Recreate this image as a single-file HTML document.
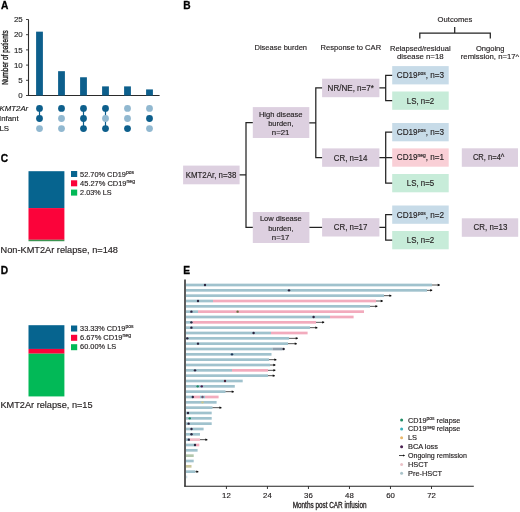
<!DOCTYPE html>
<html><head><meta charset="utf-8"><style>
html,body{margin:0;padding:0;background:#fff;width:520px;height:512px;overflow:hidden}
svg{display:block;will-change:transform}
text{font-family:"Liberation Sans", sans-serif}
</style></head><body>
<svg width="520" height="512" viewBox="0 0 520 512">
<text x="0.9" y="9.2" font-size="10.2" font-weight="bold" fill="#000" stroke="#000" stroke-width="0.3">A</text>
<line x1="28.5" y1="19.4" x2="28.5" y2="96" stroke="#2b2b2b" stroke-width="1.1"/>
<line x1="26" y1="95.50" x2="28.5" y2="95.50" stroke="#2b2b2b" stroke-width="0.9"/>
<text x="22.7" y="98.25" font-size="7.9" text-anchor="end" fill="#2a2a2a" stroke="#2a2a2a" stroke-width="0.15">0</text>
<line x1="26" y1="80.30" x2="28.5" y2="80.30" stroke="#2b2b2b" stroke-width="0.9"/>
<text x="22.7" y="83.05" font-size="7.9" text-anchor="end" fill="#2a2a2a" stroke="#2a2a2a" stroke-width="0.15">5</text>
<line x1="26" y1="65.10" x2="28.5" y2="65.10" stroke="#2b2b2b" stroke-width="0.9"/>
<text x="22.7" y="67.85" font-size="7.9" text-anchor="end" fill="#2a2a2a" stroke="#2a2a2a" stroke-width="0.15">10</text>
<line x1="26" y1="49.90" x2="28.5" y2="49.90" stroke="#2b2b2b" stroke-width="0.9"/>
<text x="22.7" y="52.65" font-size="7.9" text-anchor="end" fill="#2a2a2a" stroke="#2a2a2a" stroke-width="0.15">15</text>
<line x1="26" y1="34.70" x2="28.5" y2="34.70" stroke="#2b2b2b" stroke-width="0.9"/>
<text x="22.7" y="37.45" font-size="7.9" text-anchor="end" fill="#2a2a2a" stroke="#2a2a2a" stroke-width="0.15">20</text>
<line x1="26" y1="19.50" x2="28.5" y2="19.50" stroke="#2b2b2b" stroke-width="0.9"/>
<text x="22.7" y="22.25" font-size="7.9" text-anchor="end" fill="#2a2a2a" stroke="#2a2a2a" stroke-width="0.15">25</text>
<line x1="28" y1="95.5" x2="159.6" y2="95.5" stroke="#2b2b2b" stroke-width="1.1"/>
<text transform="translate(7.9,57.5) rotate(-90)" font-size="9" text-anchor="middle" fill="#151515" stroke="#151515" stroke-width="0.32" textLength="54.5" lengthAdjust="spacingAndGlyphs">Number of patients</text>
<rect x="36.10" y="31.66" width="6.8" height="63.84" fill="#0d5f8c"/>
<rect x="58.10" y="71.18" width="6.8" height="24.32" fill="#0d5f8c"/>
<rect x="80.10" y="77.26" width="6.8" height="18.24" fill="#0d5f8c"/>
<rect x="102.10" y="86.38" width="6.8" height="9.12" fill="#0d5f8c"/>
<rect x="124.10" y="86.38" width="6.8" height="9.12" fill="#0d5f8c"/>
<rect x="146.10" y="89.42" width="6.8" height="6.08" fill="#0d5f8c"/>
<line x1="39.5" y1="108.4" x2="39.5" y2="118.5" stroke="#0d5f8c" stroke-width="1.2"/>
<circle cx="39.5" cy="108.4" r="3.4" fill="#0d5f8c"/>
<circle cx="39.5" cy="118.5" r="3.4" fill="#0d5f8c"/>
<circle cx="39.5" cy="128.6" r="3.4" fill="#91b8d0"/>
<circle cx="61.5" cy="108.4" r="3.4" fill="#0d5f8c"/>
<circle cx="61.5" cy="118.5" r="3.4" fill="#91b8d0"/>
<circle cx="61.5" cy="128.6" r="3.4" fill="#91b8d0"/>
<line x1="83.5" y1="108.4" x2="83.5" y2="128.6" stroke="#0d5f8c" stroke-width="1.2"/>
<circle cx="83.5" cy="108.4" r="3.4" fill="#0d5f8c"/>
<circle cx="83.5" cy="118.5" r="3.4" fill="#0d5f8c"/>
<circle cx="83.5" cy="128.6" r="3.4" fill="#0d5f8c"/>
<line x1="105.5" y1="108.4" x2="105.5" y2="128.6" stroke="#0d5f8c" stroke-width="1.2"/>
<circle cx="105.5" cy="108.4" r="3.4" fill="#0d5f8c"/>
<circle cx="105.5" cy="118.5" r="3.4" fill="#91b8d0"/>
<circle cx="105.5" cy="128.6" r="3.4" fill="#0d5f8c"/>
<circle cx="127.5" cy="108.4" r="3.4" fill="#91b8d0"/>
<circle cx="127.5" cy="118.5" r="3.4" fill="#91b8d0"/>
<circle cx="127.5" cy="128.6" r="3.4" fill="#0d5f8c"/>
<circle cx="149.5" cy="108.4" r="3.4" fill="#91b8d0"/>
<circle cx="149.5" cy="118.5" r="3.4" fill="#0d5f8c"/>
<circle cx="149.5" cy="128.6" r="3.4" fill="#91b8d0"/>
<text x="-0.4" y="110.9" font-size="7.8" font-style="italic" fill="#222" stroke="#222" stroke-width="0.15">KMT2Ar</text>
<text x="-0.9" y="121.1" font-size="7.8" fill="#222" stroke="#222" stroke-width="0.15">Infant</text>
<text x="-0.6" y="131.1" font-size="7.8" fill="#222" stroke="#222" stroke-width="0.15">LS</text>
<text x="183.3" y="9.4" font-size="10.2" font-weight="bold" fill="#000" stroke="#000" stroke-width="0.3">B</text>
<text x="280.8" y="50" font-size="8.0" text-anchor="middle" fill="#262223" stroke="#262223" stroke-width="0.15" textLength="52.5" lengthAdjust="spacingAndGlyphs">Disease burden</text>
<text x="350.8" y="50" font-size="8.0" text-anchor="middle" fill="#262223" stroke="#262223" stroke-width="0.15" textLength="60.6" lengthAdjust="spacingAndGlyphs">Response to CAR</text>
<text x="455" y="22" font-size="8.0" text-anchor="middle" fill="#262223" stroke="#262223" stroke-width="0.15" textLength="34.8" lengthAdjust="spacingAndGlyphs">Outcomes</text>
<text x="420.3" y="50.5" font-size="8.0" text-anchor="middle" fill="#262223" stroke="#262223" stroke-width="0.15" textLength="60.6" lengthAdjust="spacingAndGlyphs">Relapsed/residual</text>
<text x="420.3" y="59.3" font-size="8.0" text-anchor="middle" fill="#262223" stroke="#262223" stroke-width="0.15" textLength="46.6" lengthAdjust="spacingAndGlyphs">disease n=18</text>
<text x="490.2" y="50.5" font-size="8.0" text-anchor="middle" fill="#262223" stroke="#262223" stroke-width="0.15" textLength="28.5" lengthAdjust="spacingAndGlyphs">Ongoing</text>
<text x="490.0" y="59.0" font-size="8.0" text-anchor="middle" fill="#262223" stroke="#262223" stroke-width="0.15" textLength="58.4" lengthAdjust="spacingAndGlyphs">remission, n=17^</text>
<path d="M419.8 38.6 V33 H490.3 V38.6 M454.7 33 V27" fill="none" stroke="#232323" stroke-width="1.25"/>
<rect x="183.1" y="165.6" width="56.50" height="18.70" fill="#ddd0e0"/>
<text x="211.0" y="177.87" font-size="8.5" text-anchor="middle" fill="#262223" stroke="#262223" stroke-width="0.15" textLength="50.6" lengthAdjust="spacingAndGlyphs">KMT2Ar, n=38</text>
<rect x="252.8" y="107.1" width="56.50" height="30.90" fill="#ddd0e0"/>
<text x="280.7" y="116.5" font-size="8.0" text-anchor="middle" fill="#262223" stroke="#262223" stroke-width="0.15" textLength="43.6" lengthAdjust="spacingAndGlyphs">High disease</text>
<text x="280.85" y="125.8" font-size="8.0" text-anchor="middle" fill="#262223" stroke="#262223" stroke-width="0.15" textLength="25.3" lengthAdjust="spacingAndGlyphs">burden,</text>
<text x="280.65" y="134.8" font-size="8.0" text-anchor="middle" fill="#262223" stroke="#262223" stroke-width="0.15" textLength="17.7" lengthAdjust="spacingAndGlyphs">n=21</text>
<rect x="252.8" y="212.0" width="56.60" height="31.00" fill="#ddd0e0"/>
<text x="280.8" y="221.4" font-size="8.0" text-anchor="middle" fill="#262223" stroke="#262223" stroke-width="0.15" textLength="41.8" lengthAdjust="spacingAndGlyphs">Low disease</text>
<text x="280.85" y="230.6" font-size="8.0" text-anchor="middle" fill="#262223" stroke="#262223" stroke-width="0.15" textLength="25.3" lengthAdjust="spacingAndGlyphs">burden,</text>
<text x="280.65" y="239.5" font-size="8.0" text-anchor="middle" fill="#262223" stroke="#262223" stroke-width="0.15" textLength="17.7" lengthAdjust="spacingAndGlyphs">n=17</text>
<rect x="322.1" y="78.7" width="57.30" height="18.50" fill="#ddd0e0"/>
<text x="350.75" y="90.87" font-size="8.5" text-anchor="middle" fill="#262223" stroke="#262223" stroke-width="0.15" textLength="46.3" lengthAdjust="spacingAndGlyphs">NR/NE, n=7*</text>
<rect x="322.1" y="148.4" width="57.30" height="18.40" fill="#ddd0e0"/>
<text x="350.55" y="160.52" font-size="8.5" text-anchor="middle" fill="#262223" stroke="#262223" stroke-width="0.15" textLength="33.7" lengthAdjust="spacingAndGlyphs">CR, n=14</text>
<rect x="322.1" y="218.2" width="57.30" height="18.30" fill="#ddd0e0"/>
<text x="350.55" y="230.27" font-size="8.5" text-anchor="middle" fill="#262223" stroke="#262223" stroke-width="0.15" textLength="33.7" lengthAdjust="spacingAndGlyphs">CR, n=17</text>
<rect x="392.2" y="66.1" width="56.50" height="18.30" fill="#c7dbe8"/>
<text x="420.45" y="78.17" font-size="8.5" text-anchor="middle" fill="#262223" stroke="#262223" stroke-width="0.15" textLength="47.3" lengthAdjust="spacingAndGlyphs">CD19<tspan font-size="5.2" dy="-3">pos</tspan><tspan dy="3">, n=3</tspan></text>
<rect x="392.2" y="91.5" width="56.50" height="18.30" fill="#c7ecd9"/>
<text x="420.45" y="103.57" font-size="8.5" text-anchor="middle" fill="#262223" stroke="#262223" stroke-width="0.15" textLength="27.4" lengthAdjust="spacingAndGlyphs">LS, n=2</text>
<rect x="392.2" y="123.0" width="56.50" height="18.30" fill="#c7dbe8"/>
<text x="420.45" y="135.07" font-size="8.5" text-anchor="middle" fill="#262223" stroke="#262223" stroke-width="0.15" textLength="47.3" lengthAdjust="spacingAndGlyphs">CD19<tspan font-size="5.2" dy="-3">pos</tspan><tspan dy="3">, n=3</tspan></text>
<rect x="392.2" y="148.4" width="56.50" height="18.30" fill="#f9cfd6"/>
<text x="420.45" y="160.47" font-size="8.5" text-anchor="middle" fill="#262223" stroke="#262223" stroke-width="0.15" textLength="47.3" lengthAdjust="spacingAndGlyphs">CD19<tspan font-size="5.2" dy="-3">neg</tspan><tspan dy="3">, n=1</tspan></text>
<rect x="392.2" y="174.0" width="56.50" height="18.30" fill="#c7ecd9"/>
<text x="420.45" y="186.07" font-size="8.5" text-anchor="middle" fill="#262223" stroke="#262223" stroke-width="0.15" textLength="27.4" lengthAdjust="spacingAndGlyphs">LS, n=5</text>
<rect x="392.2" y="205.5" width="56.50" height="18.30" fill="#c7dbe8"/>
<text x="420.45" y="217.57" font-size="8.5" text-anchor="middle" fill="#262223" stroke="#262223" stroke-width="0.15" textLength="47.3" lengthAdjust="spacingAndGlyphs">CD19<tspan font-size="5.2" dy="-3">pos</tspan><tspan dy="3">, n=2</tspan></text>
<rect x="392.2" y="231.0" width="56.50" height="18.30" fill="#c7ecd9"/>
<text x="420.45" y="243.07" font-size="8.5" text-anchor="middle" fill="#262223" stroke="#262223" stroke-width="0.15" textLength="27.4" lengthAdjust="spacingAndGlyphs">LS, n=2</text>
<rect x="461.8" y="148.3" width="56.20" height="18.50" fill="#ddd0e0"/>
<text x="488.65" y="160.47" font-size="8.5" text-anchor="middle" fill="#262223" stroke="#262223" stroke-width="0.15" textLength="31.5" lengthAdjust="spacingAndGlyphs">CR, n=4^</text>
<rect x="461.8" y="218.3" width="56.40" height="18.50" fill="#ddd0e0"/>
<text x="490.45" y="230.47" font-size="8.5" text-anchor="middle" fill="#262223" stroke="#262223" stroke-width="0.15" textLength="33.7" lengthAdjust="spacingAndGlyphs">CR, n=13</text>
<path d="M239.6 174.9 H246 M252.8 122.5 H246 V227.4 H252.8" fill="none" stroke="#232323" stroke-width="1.25"/>
<path d="M309.3 122.8 H315.8 M322.1 87.9 H315.8 V157.6 H322.1" fill="none" stroke="#232323" stroke-width="1.25"/>
<path d="M309.4 227.4 H322.1" fill="none" stroke="#232323" stroke-width="1.25"/>
<path d="M379.4 87.9 H385.7 M392.2 75.25 H385.7 V100.65 H392.2" fill="none" stroke="#232323" stroke-width="1.25"/>
<path d="M379.4 157.6 H385.7 M392.2 132.15 H385.7 V183.15 H392.2 M385.7 157.6 H392.2" fill="none" stroke="#232323" stroke-width="1.25"/>
<path d="M379.4 227.4 H385.7 M392.2 214.65 H385.7 V240.15 H392.2" fill="none" stroke="#232323" stroke-width="1.25"/>
<text x="0.7" y="161.7" font-size="10.2" font-weight="bold" fill="#000" stroke="#000" stroke-width="0.3">C</text>
<rect x="28.5" y="171.20" width="35.90" height="36.91" fill="#06648f"/>
<rect x="28.5" y="208.09" width="35.90" height="31.71" fill="#fb033a"/>
<rect x="28.5" y="239.78" width="35.90" height="1.44" fill="#3a9450"/>
<rect x="71" y="171.0" width="6.2" height="6" fill="#06648f"/>
<text x="80.1" y="176.6" font-size="7.6" fill="#262223" stroke="#262223" stroke-width="0.15" textLength="53.9" lengthAdjust="spacingAndGlyphs">52.70% CD19<tspan font-size="5.2" dy="-2.9">pos</tspan></text>
<rect x="71" y="180.3" width="6.2" height="6" fill="#fb033a"/>
<text x="80.1" y="185.7" font-size="7.6" fill="#262223" stroke="#262223" stroke-width="0.15" textLength="54.9" lengthAdjust="spacingAndGlyphs">45.27% CD19<tspan font-size="5.2" dy="-2.9">neg</tspan></text>
<rect x="71" y="189.6" width="6.2" height="6" fill="#02b957"/>
<text x="80.1" y="194.7" font-size="7.6" fill="#262223" stroke="#262223" stroke-width="0.15" textLength="31.5" lengthAdjust="spacingAndGlyphs">2.03% LS</text>
<text x="0.6" y="252.7" font-size="9.2" fill="#262223" stroke="#262223" stroke-width="0.15" textLength="117.4" lengthAdjust="spacingAndGlyphs">Non-KMT2Ar relapse, n=148</text>
<text x="0.8" y="274.0" font-size="10.2" font-weight="bold" fill="#000" stroke="#000" stroke-width="0.3">D</text>
<rect x="28.5" y="325.20" width="35.90" height="23.75" fill="#06648f"/>
<rect x="28.5" y="348.93" width="35.90" height="4.77" fill="#fb033a"/>
<rect x="28.5" y="353.68" width="35.90" height="42.74" fill="#02b957"/>
<rect x="71" y="325.5" width="6.2" height="6" fill="#06648f"/>
<text x="80.1" y="331.0" font-size="7.6" fill="#262223" stroke="#262223" stroke-width="0.15" textLength="53.3" lengthAdjust="spacingAndGlyphs">33.33% CD19<tspan font-size="5.2" dy="-2.9">pos</tspan></text>
<rect x="71" y="334.8" width="6.2" height="6" fill="#fb033a"/>
<text x="80.1" y="340.2" font-size="7.6" fill="#262223" stroke="#262223" stroke-width="0.15" textLength="50.9" lengthAdjust="spacingAndGlyphs">6.67% CD19<tspan font-size="5.2" dy="-2.9">neg</tspan></text>
<rect x="71" y="344.2" width="6.2" height="6" fill="#02b957"/>
<text x="80.1" y="349.4" font-size="7.6" fill="#262223" stroke="#262223" stroke-width="0.15" textLength="36.1" lengthAdjust="spacingAndGlyphs">60.00% LS</text>
<text x="0.4" y="407.6" font-size="9.2" fill="#262223" stroke="#262223" stroke-width="0.15" textLength="92.2" lengthAdjust="spacingAndGlyphs">KMT2Ar relapse, n=15</text>
<text x="183.2" y="274.2" font-size="10.2" font-weight="bold" fill="#000" stroke="#000" stroke-width="0.3">E</text>
<rect x="186" y="283.65" width="246.00" height="2.7" fill="#a0c2cd"/>
<line x1="432" y1="285.00" x2="439.00" y2="285.00" stroke="#1a1a1a" stroke-width="0.75"/>
<path d="M437.70 283.85 L439.80 284.50 L439.80 285.50 L437.70 286.15Z" fill="#111"/>
<circle cx="205" cy="285.00" r="1.2" fill="#2b2540"/>
<rect x="186" y="288.98" width="241.00" height="2.7" fill="#a0c2cd"/>
<line x1="427" y1="290.33" x2="431.40" y2="290.33" stroke="#1a1a1a" stroke-width="0.75"/>
<path d="M430.10 289.18 L432.20 289.83 L432.20 290.83 L430.10 291.48Z" fill="#111"/>
<circle cx="289" cy="290.33" r="1.2" fill="#2b2540"/>
<rect x="186" y="294.32" width="198.00" height="2.7" fill="#a0c2cd"/>
<line x1="384" y1="295.67" x2="390.60" y2="295.67" stroke="#1a1a1a" stroke-width="0.75"/>
<path d="M389.30 294.52 L391.40 295.17 L391.40 296.17 L389.30 296.82Z" fill="#111"/>
<rect x="186" y="299.65" width="27.00" height="2.7" fill="#a0c2cd"/>
<rect x="213" y="299.65" width="163.00" height="2.7" fill="#f2abbd"/>
<line x1="376" y1="301.00" x2="382.00" y2="301.00" stroke="#1a1a1a" stroke-width="0.75"/>
<path d="M380.70 299.85 L382.80 300.50 L382.80 301.50 L380.70 302.15Z" fill="#111"/>
<circle cx="198" cy="301.00" r="1.2" fill="#2b2540"/>
<rect x="186" y="304.98" width="184.00" height="2.7" fill="#a0c2cd"/>
<line x1="370" y1="306.33" x2="376.60" y2="306.33" stroke="#1a1a1a" stroke-width="0.75"/>
<path d="M375.30 305.18 L377.40 305.83 L377.40 306.83 L375.30 307.48Z" fill="#111"/>
<rect x="186" y="310.31" width="12.00" height="2.7" fill="#a0c2cd"/>
<rect x="198" y="310.31" width="166.00" height="2.7" fill="#f2abbd"/>
<circle cx="191.4" cy="311.67" r="1.2" fill="#2b2540"/>
<circle cx="237.6" cy="311.67" r="1.2" fill="#6a7040"/>
<rect x="186" y="315.65" width="144.00" height="2.7" fill="#a0c2cd"/>
<rect x="330" y="315.65" width="23.60" height="2.7" fill="#f2abbd"/>
<circle cx="313.6" cy="317.00" r="1.2" fill="#2b2540"/>
<rect x="186" y="320.98" width="6.50" height="2.7" fill="#a0c2cd"/>
<rect x="192.5" y="320.98" width="123.50" height="2.7" fill="#f2abbd"/>
<line x1="316" y1="322.33" x2="323.40" y2="322.33" stroke="#1a1a1a" stroke-width="0.75"/>
<path d="M322.10 321.18 L324.20 321.83 L324.20 322.83 L322.10 323.48Z" fill="#111"/>
<circle cx="191.4" cy="322.33" r="1.2" fill="#2b2540"/>
<rect x="186" y="326.31" width="124.00" height="2.7" fill="#a0c2cd"/>
<line x1="310" y1="327.66" x2="316.60" y2="327.66" stroke="#1a1a1a" stroke-width="0.75"/>
<path d="M315.30 326.51 L317.40 327.16 L317.40 328.16 L315.30 328.81Z" fill="#111"/>
<circle cx="191.4" cy="327.66" r="1.2" fill="#2b2540"/>
<rect x="186" y="331.65" width="85.00" height="2.7" fill="#a0c2cd"/>
<rect x="271" y="331.65" width="36.60" height="2.7" fill="#f2abbd"/>
<circle cx="253.6" cy="333.00" r="1.2" fill="#2b2540"/>
<rect x="186" y="336.98" width="103.00" height="2.7" fill="#a0c2cd"/>
<line x1="289" y1="338.33" x2="297.00" y2="338.33" stroke="#1a1a1a" stroke-width="0.75"/>
<path d="M295.70 337.18 L297.80 337.83 L297.80 338.83 L295.70 339.48Z" fill="#111"/>
<circle cx="187.3" cy="338.33" r="1.2" fill="#2b2540"/>
<rect x="186" y="342.31" width="102.00" height="2.7" fill="#a0c2cd"/>
<line x1="288" y1="343.66" x2="296.00" y2="343.66" stroke="#1a1a1a" stroke-width="0.75"/>
<path d="M294.70 342.51 L296.80 343.16 L296.80 344.16 L294.70 344.81Z" fill="#111"/>
<circle cx="198" cy="343.66" r="1.2" fill="#2b2540"/>
<rect x="186" y="347.65" width="86.50" height="2.7" fill="#a0c2cd"/>
<rect x="272.5" y="347.65" width="10.10" height="2.7" fill="#8d9eac"/>
<circle cx="283.6" cy="349.00" r="1.2" fill="#223"/>
<rect x="186" y="352.98" width="85.50" height="2.7" fill="#a0c2cd"/>
<circle cx="232" cy="354.33" r="1.2" fill="#203858"/>
<rect x="186" y="358.31" width="83.00" height="2.7" fill="#a0c2cd"/>
<line x1="269" y1="359.66" x2="275.60" y2="359.66" stroke="#1a1a1a" stroke-width="0.75"/>
<path d="M274.30 358.51 L276.40 359.16 L276.40 360.16 L274.30 360.81Z" fill="#111"/>
<rect x="186" y="363.64" width="84.00" height="2.7" fill="#a0c2cd"/>
<line x1="270" y1="365.00" x2="274.60" y2="365.00" stroke="#1a1a1a" stroke-width="0.75"/>
<path d="M273.30 363.85 L275.40 364.50 L275.40 365.50 L273.30 366.14Z" fill="#111"/>
<rect x="186" y="368.98" width="46.00" height="2.7" fill="#a0c2cd"/>
<rect x="232" y="368.98" width="36.00" height="2.7" fill="#f2abbd"/>
<line x1="268" y1="370.33" x2="274.60" y2="370.33" stroke="#1a1a1a" stroke-width="0.75"/>
<path d="M273.30 369.18 L275.40 369.83 L275.40 370.83 L273.30 371.48Z" fill="#111"/>
<circle cx="195" cy="370.33" r="1.2" fill="#2b2540"/>
<rect x="186" y="374.31" width="82.00" height="2.7" fill="#a0c2cd"/>
<line x1="268" y1="375.66" x2="274.00" y2="375.66" stroke="#1a1a1a" stroke-width="0.75"/>
<path d="M272.70 374.51 L274.80 375.16 L274.80 376.16 L272.70 376.81Z" fill="#111"/>
<rect x="186" y="379.64" width="56.70" height="2.7" fill="#a0c2cd"/>
<circle cx="225" cy="380.99" r="1.2" fill="#4a1e36"/>
<rect x="186" y="384.98" width="48.80" height="2.7" fill="#a0c2cd"/>
<circle cx="197.7" cy="386.33" r="1.2" fill="#1f8a64"/>
<circle cx="201.8" cy="386.33" r="1.2" fill="#4a2050"/>
<rect x="186" y="390.31" width="39.50" height="2.7" fill="#a0c2cd"/>
<line x1="225.5" y1="391.66" x2="233.00" y2="391.66" stroke="#1a1a1a" stroke-width="0.75"/>
<path d="M231.70 390.51 L233.80 391.16 L233.80 392.16 L231.70 392.81Z" fill="#111"/>
<rect x="186" y="395.64" width="7.00" height="2.7" fill="#a0c2cd"/>
<rect x="193" y="395.64" width="7.00" height="2.7" fill="#f2abbd"/>
<rect x="200" y="395.64" width="5.00" height="2.7" fill="#a0c2cd"/>
<rect x="205" y="395.64" width="13.60" height="2.7" fill="#f2abbd"/>
<circle cx="192.8" cy="396.99" r="1.2" fill="#2b2540"/>
<circle cx="202.5" cy="396.99" r="1.2" fill="#6a5070"/>
<rect x="186" y="400.98" width="30.60" height="2.7" fill="#a0c2cd"/>
<circle cx="202.5" cy="402.33" r="1.2" fill="#c8c890"/>
<rect x="186" y="406.31" width="26.50" height="2.7" fill="#a0c2cd"/>
<line x1="212.5" y1="407.66" x2="220.70" y2="407.66" stroke="#1a1a1a" stroke-width="0.75"/>
<path d="M219.40 406.51 L221.50 407.16 L221.50 408.16 L219.40 408.81Z" fill="#111"/>
<rect x="186" y="411.64" width="25.70" height="2.7" fill="#a0c2cd"/>
<circle cx="188" cy="412.99" r="1.2" fill="#2b2540"/>
<rect x="186" y="416.98" width="25.70" height="2.7" fill="#a0c2cd"/>
<circle cx="189.8" cy="418.33" r="1.2" fill="#1f8a64"/>
<rect x="186" y="422.31" width="25.70" height="2.7" fill="#a0c2cd"/>
<circle cx="188.6" cy="423.66" r="1.2" fill="#2b2540"/>
<rect x="186" y="427.64" width="17.60" height="2.7" fill="#a0c2cd"/>
<circle cx="191.5" cy="428.99" r="1.2" fill="#2b2540"/>
<rect x="186" y="432.97" width="14.00" height="2.7" fill="#a0c2cd"/>
<circle cx="191.5" cy="434.32" r="1.2" fill="#2b2540"/>
<rect x="186" y="438.31" width="4.00" height="2.7" fill="#a0c2cd"/>
<rect x="190" y="438.31" width="10.00" height="2.7" fill="#f3bcc8"/>
<line x1="200" y1="439.66" x2="206.60" y2="439.66" stroke="#1a1a1a" stroke-width="0.75"/>
<path d="M205.30 438.51 L207.40 439.16 L207.40 440.16 L205.30 440.81Z" fill="#111"/>
<circle cx="188.8" cy="439.66" r="1.2" fill="#2b2540"/>
<rect x="186" y="443.64" width="10.00" height="2.7" fill="#a0c2cd"/>
<rect x="196" y="443.64" width="3.30" height="2.7" fill="#f2abbd"/>
<circle cx="195" cy="444.99" r="1.2" fill="#2b2540"/>
<rect x="186" y="448.97" width="11.60" height="2.7" fill="#a0c2cd"/>
<rect x="186" y="454.31" width="7.70" height="2.7" fill="#b3c7ad"/>
<rect x="186" y="459.64" width="7.70" height="2.7" fill="#a0c2cd"/>
<rect x="186" y="464.97" width="5.50" height="2.7" fill="#cbc79c"/>
<rect x="186" y="470.30" width="9.40" height="2.7" fill="#a0c2cd"/>
<line x1="195.4" y1="471.65" x2="197.60" y2="471.65" stroke="#1a1a1a" stroke-width="0.75"/>
<path d="M196.30 470.50 L198.40 471.15 L198.40 472.15 L196.30 472.80Z" fill="#111"/>
<rect x="186" y="475.64" width="1.30" height="2.7" fill="#d4e4ec"/>
<line x1="185" y1="279.5" x2="185" y2="486.6" stroke="#333" stroke-width="1.6"/>
<line x1="184.2" y1="486.2" x2="473.8" y2="486.2" stroke="#222" stroke-width="1.15"/>
<line x1="226.42" y1="486.2" x2="226.42" y2="489" stroke="#222" stroke-width="0.9"/>
<text x="226.42" y="498.2" font-size="7.8" text-anchor="middle" fill="#262223" stroke="#262223" stroke-width="0.15">12</text>
<line x1="267.43" y1="486.2" x2="267.43" y2="489" stroke="#222" stroke-width="0.9"/>
<text x="267.43" y="498.2" font-size="7.8" text-anchor="middle" fill="#262223" stroke="#262223" stroke-width="0.15">24</text>
<line x1="308.45" y1="486.2" x2="308.45" y2="489" stroke="#222" stroke-width="0.9"/>
<text x="308.45" y="498.2" font-size="7.8" text-anchor="middle" fill="#262223" stroke="#262223" stroke-width="0.15">36</text>
<line x1="349.46" y1="486.2" x2="349.46" y2="489" stroke="#222" stroke-width="0.9"/>
<text x="349.46" y="498.2" font-size="7.8" text-anchor="middle" fill="#262223" stroke="#262223" stroke-width="0.15">48</text>
<line x1="390.48" y1="486.2" x2="390.48" y2="489" stroke="#222" stroke-width="0.9"/>
<text x="390.48" y="498.2" font-size="7.8" text-anchor="middle" fill="#262223" stroke="#262223" stroke-width="0.15">60</text>
<line x1="431.50" y1="486.2" x2="431.50" y2="489" stroke="#222" stroke-width="0.9"/>
<text x="431.5" y="498.2" font-size="7.8" text-anchor="middle" fill="#262223" stroke="#262223" stroke-width="0.15">72</text>
<text x="292.7" y="508.3" font-size="8.2" fill="#262223" stroke="#262223" stroke-width="0.3" textLength="73.8" lengthAdjust="spacingAndGlyphs">Months post CAR infusion</text>
<circle cx="401.6" cy="420.00" r="1.5" fill="#1f8a64"/>
<text x="408" y="422.6" font-size="7.4" fill="#262223" stroke="#262223" stroke-width="0.15" textLength="52.4" lengthAdjust="spacingAndGlyphs">CD19<tspan font-size="5" dy="-2.7">pos</tspan><tspan dy="2.7"> relapse</tspan></text>
<circle cx="401.6" cy="428.88" r="1.5" fill="#3ab2bc"/>
<text x="408" y="431.48" font-size="7.4" fill="#262223" stroke="#262223" stroke-width="0.15" textLength="52.4" lengthAdjust="spacingAndGlyphs">CD19<tspan font-size="5" dy="-2.7">neg</tspan><tspan dy="2.7"> relapse</tspan></text>
<circle cx="401.6" cy="437.76" r="1.5" fill="#e9b86c"/>
<text x="408" y="440.36" font-size="7.4" fill="#262223" stroke="#262223" stroke-width="0.15">LS</text>
<circle cx="401.6" cy="446.64" r="1.5" fill="#4a2050"/>
<text x="408" y="449.24" font-size="7.4" fill="#262223" stroke="#262223" stroke-width="0.15">BCA loss</text>
<line x1="399" y1="455.52" x2="403.5" y2="455.52" stroke="#111" stroke-width="0.8"/>
<path d="M403 454.42 L405.2 455.52 L403 456.62Z" fill="#111"/>
<text x="408" y="458.12" font-size="7.4" fill="#262223" stroke="#262223" stroke-width="0.15" textLength="59" lengthAdjust="spacingAndGlyphs">Ongoing remission</text>
<circle cx="401.6" cy="464.40" r="1.5" fill="#eac2c8"/>
<text x="408" y="467.0" font-size="7.4" fill="#262223" stroke="#262223" stroke-width="0.15">HSCT</text>
<circle cx="401.6" cy="473.28" r="1.5" fill="#a9c2c9"/>
<text x="408" y="475.88" font-size="7.4" fill="#262223" stroke="#262223" stroke-width="0.15">Pre-HSCT</text>
</svg>
</body></html>
